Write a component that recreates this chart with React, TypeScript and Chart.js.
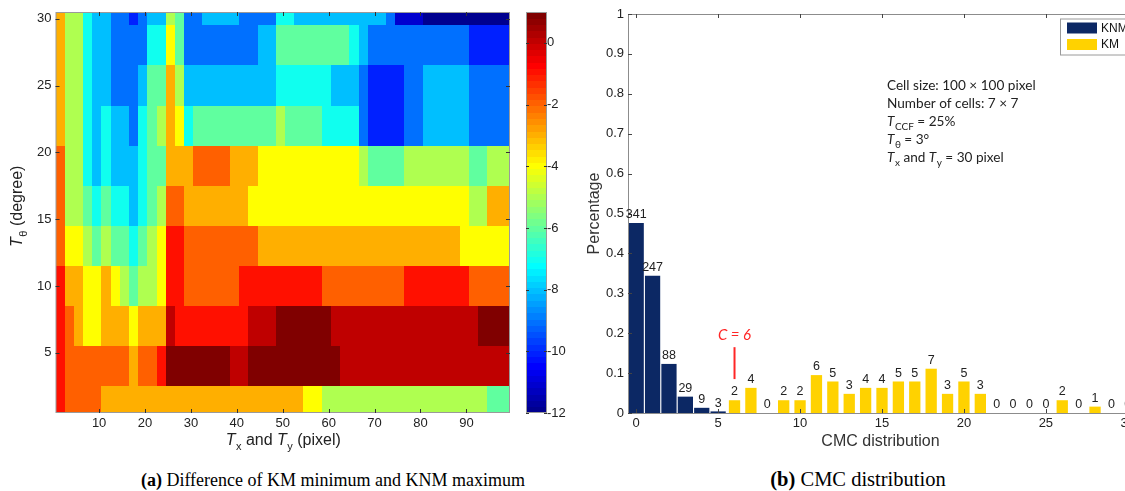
import React, { useEffect, useRef } from 'react';
import { Chart, registerables } from 'chart.js';

Chart.register(...registerables);

const SANS = '"Liberation Sans", Arial, sans-serif';
const CAL = 'Lato, "Open Sans", sans-serif';
const SERIF = '"Liberation Serif", "Times New Roman", serif';

// ---------------- Panel (a): heat map data ----------------
const txTicks = [10, 20, 30, 40, 50, 60, 70, 80, 90];
const txTickLabels = ['10', '20', '30', '40', '50', '60', '70', '80', '90'];
const thetaTicks = [5, 10, 15, 20, 25, 30];
const thetaTickLabels = ['5', '10', '15', '20', '25', '30'];
const colorbarTicks = [0, -2, -4, -6, -8, -10, -12];
const colorbarTickLabels = ['0', '-2', '-4', '-6', '-8', '-10', '-12'];
const txRange = [0.5, 99.5];
const thetaRange = [0.5, 30.5];
const colorRange = [-12, 1];

// row boundaries in T_theta (top to bottom) and column grid in T_x
const thetaRowEdges = [30.5, 29.5, 26.5, 23.5, 20.5, 17.5, 14.5, 11.5, 8.5, 5.5, 2.5, 0.5];
const txFirstEdge = 0.5;
const txCellSize = 2;

// each row: runs of [number of T_x cells, value]
const rowTheta30 = [[1, -3], [2, -5], [1, -7], [2, -8], [2, -9], [1, -10], [1, -9], [2, -8], [1, -5], [1, -6], [2, -9], [4, -8], [4, -9], [2, -7], [10, -8], [1, -9], [3, -11], [10, -12]];
const rowTheta28 = [[1, -3], [2, -5], [1, -7], [2, -8], [4, -9], [2, -7], [1, -4], [1, -6], [8, -9], [2, -8], [8, -6], [1, -7], [1, -8], [11, -9], [5, -10]];
const rowTheta25 = [[1, -3], [2, -5], [1, -7], [2, -8], [3, -9], [1, -8], [2, -6], [1, -3], [1, -5], [10, -8], [6, -7], [3, -8], [1, -9], [4, -10], [2, -9], [5, -8], [5, -9]];
const rowTheta22 = [[1, -3], [2, -5], [1, -7], [1, -8], [1, -7], [2, -8], [1, -9], [1, -7], [1, -6], [1, -5], [1, -3], [1, -4], [1, -7], [9, -6], [1, -5], [4, -6], [4, -7], [1, -9], [4, -10], [2, -9], [5, -8], [5, -9]];
const rowTheta19 = [[1, -2], [2, -5], [1, -7], [1, -8], [1, -7], [3, -8], [1, -7], [2, -6], [3, -3], [4, -2], [3, -3], [11, -4], [1, -5], [4, -6], [7, -5], [2, -6], [3, -5]];
const rowTheta16 = [[1, -2], [2, -5], [1, -6], [1, -7], [1, -6], [2, -7], [1, -8], [1, -7], [1, -6], [1, -5], [2, -2], [7, -3], [24, -4], [2, -5], [3, -3]];
const rowTheta13 = [[1, -2], [2, -4], [1, -5], [1, -6], [1, -5], [2, -6], [1, -7], [1, -6], [1, -5], [1, -4], [2, -1], [8, -2], [22, -3], [6, -4]];
const rowTheta10 = [[1, -1], [2, -3], [2, -4], [1, -3], [1, -4], [1, -5], [1, -6], [2, -5], [1, -4], [2, -1], [6, -2], [9, -1], [9, -2], [7, -1], [5, -2]];
const rowTheta7 = [[1, -1], [1, -2], [1, -3], [2, -4], [3, -3], [1, -4], [3, -3], [1, 0], [8, -1], [3, 0], [6, 1], [16, 0], [4, 1]];
const rowTheta4 = [[1, -1], [7, -2], [1, -3], [2, -2], [1, -1], [7, 1], [2, 0], [10, 1], [19, 0]];
const rowTheta1 = [[1, -1], [4, -2], [22, -3], [2, -4], [18, -5], [3, -6]];
const heatRows = [rowTheta30, rowTheta28, rowTheta25, rowTheta22, rowTheta19, rowTheta16, rowTheta13, rowTheta10, rowTheta7, rowTheta4, rowTheta1];

// ---------------- Panel (b): CMC distribution data ----------------
const cmcBins = ['0', '1', '2', '3', '4', '5', '6', '7', '8', '9', '10', '11', '12', '13', '14', '15', '16', '17', '18', '19', '20', '21', '22', '23', '24', '25', '26', '27', '28', '29', '30'];
const cmcTickLabels = ['0', '5', '10', '15', '20', '25', '30'];
const percentTicks = [0, 0.1, 0.2, 0.3, 0.4, 0.5, 0.6, 0.7, 0.8, 0.9, 1];
const percentTickLabels = ['0', '0.1', '0.2', '0.3', '0.4', '0.5', '0.6', '0.7', '0.8', '0.9', '1'];
const knmBins = ['0', '1', '2', '3', '4', '5'];
const knmPercent = [0.476, 0.344, 0.123, 0.041, 0.013, 0.004];
const knmCounts = [341, 247, 88, 29, 9, 3];
const kmBins = ['6', '7', '8', '9', '10', '11', '12', '13', '14', '15', '16', '17', '18', '19', '20', '21', '22', '23', '24', '25', '26', '27', '28', '29', '30'];
const kmPercent = [0.032, 0.063, 0, 0.032, 0.032, 0.095, 0.079, 0.048, 0.063, 0.063, 0.079, 0.079, 0.111, 0.048, 0.079, 0.048, 0, 0, 0, 0, 0.032, 0, 0.016, 0, 0];
const kmCounts = [2, 4, 0, 2, 2, 6, 5, 3, 4, 4, 5, 5, 7, 3, 5, 3, 0, 0, 0, 0, 2, 0, 1, 0, 0];
const thresholdBin = '6';
const thresholdLabel = 'C = 6';
const thresholdLine = [0.085, 0.165];
const thresholdTextAt = 0.183;
const seriesNames = ['KNM', 'KM'];

const NAVY = '#0c2864';
const GOLD = '#ffd200';

type Seg = { t: string; it?: boolean; sub?: boolean };

function drawRich(ctx: CanvasRenderingContext2D, segs: Seg[], x: number, y: number, size: number, family: string, align: 'center' | 'left', angle: number, color: string) {
  const subSize = Math.round(size * 0.7);
  const fontOf = (s: Seg) => `${s.it ? 'italic ' : ''}${s.sub ? subSize : size}px ${family}`;
  let total = 0;
  const widths = segs.map((s) => {
    ctx.font = fontOf(s);
    const w = ctx.measureText(s.t).width;
    total += w;
    return w;
  });
  ctx.save();
  ctx.translate(x, y);
  ctx.rotate(angle);
  ctx.fillStyle = color;
  ctx.textBaseline = 'alphabetic';
  ctx.textAlign = 'left';
  let cx = align === 'center' ? -total / 2 : 0;
  segs.forEach((s, i) => {
    ctx.font = fontOf(s);
    ctx.fillText(s.t, cx, s.sub ? size * 0.3 : 0);
    cx += widths[i] + (s.it ? 0.5 : 0);
  });
  ctx.restore();
}

function jetIndexColor(i: number) {
  const c = (t: number) => Math.max(0, Math.min(1, t));
  const r = c(Math.min((i - 24) / 16, (72 - i) / 16));
  const g = c(Math.min((i - 8) / 16, (56 - i) / 16));
  const b = c(Math.min((i + 8) / 16, (40 - i) / 16));
  return `rgb(${Math.round(r * 255)},${Math.round(g * 255)},${Math.round(b * 255)})`;
}

function jetValueColor(v: number) {
  let i = Math.floor(((v - colorRange[0]) / (colorRange[1] - colorRange[0])) * 64 + 1e-9) + 1;
  i = Math.max(1, Math.min(64, i));
  return jetIndexColor(i);
}

const heatmapPlugin = {
  id: 'heatmapCells',
  beforeDatasetsDraw(chart: any) {
    const { ctx, chartArea: a, scales } = chart;
    const x = scales.x;
    const y = scales.y;
    ctx.save();
    ctx.beginPath();
    ctx.rect(a.left, a.top, a.right - a.left, a.bottom - a.top);
    ctx.clip();
    heatRows.forEach((runs, r) => {
      const yTop = Math.round(y.getPixelForValue(thetaRowEdges[r]));
      const yBot = Math.round(y.getPixelForValue(thetaRowEdges[r + 1]));
      let col = 0;
      runs.forEach(([n, v]) => {
        const x0 = Math.round(x.getPixelForValue(txFirstEdge + col * txCellSize));
        const x1 = Math.round(x.getPixelForValue(txFirstEdge + (col + n) * txCellSize));
        ctx.fillStyle = jetValueColor(v);
        ctx.fillRect(x0, yTop, x1 - x0 + 0.5, yBot - yTop + 0.5);
        col += n;
      });
    });
    ctx.restore();
  },
  afterDraw(chart: any) {
    const { ctx, chartArea: a, scales } = chart;
    const x = scales.x;
    const y = scales.y;
    const cb = scales.cb;
    ctx.save();
    // frame
    ctx.strokeStyle = '#9a9a9a';
    ctx.lineWidth = 1;
    ctx.strokeRect(a.left + 0.5, a.top + 0.5, a.right - a.left - 1, a.bottom - a.top - 1);
    // inner ticks
    ctx.strokeStyle = '#333';
    ctx.beginPath();
    txTicks.forEach((v) => {
      const px = Math.round(x.getPixelForValue(v)) + 0.5;
      ctx.moveTo(px, a.top); ctx.lineTo(px, a.top + 4);
      ctx.moveTo(px, a.bottom); ctx.lineTo(px, a.bottom - 4);
    });
    thetaTicks.forEach((v) => {
      const py = Math.round(y.getPixelForValue(v)) + 0.5;
      ctx.moveTo(a.left, py); ctx.lineTo(a.left + 4, py);
      ctx.moveTo(a.right, py); ctx.lineTo(a.right - 4, py);
    });
    ctx.stroke();

    // colorbar
    const cx0 = a.right + 16;
    const cx1 = a.right + 37;
    for (let i = 1; i <= 64; i++) {
      const v0 = colorRange[0] + ((i - 1) / 64) * (colorRange[1] - colorRange[0]);
      const v1 = colorRange[0] + (i / 64) * (colorRange[1] - colorRange[0]);
      const p0 = cb.getPixelForValue(v0);
      const p1 = cb.getPixelForValue(v1);
      ctx.fillStyle = jetIndexColor(i);
      ctx.fillRect(cx0, Math.floor(p1), cx1 - cx0, Math.ceil(p0) - Math.floor(p1));
    }
    ctx.strokeStyle = '#9a9a9a';
    ctx.strokeRect(cx0 + 0.5, cb.top + 0.5, cx1 - cx0 - 1, cb.bottom - cb.top - 1);
    ctx.strokeStyle = '#333';
    ctx.beginPath();
    colorbarTicks.forEach((v) => {
      const py = Math.round(cb.getPixelForValue(v)) + 0.5;
      ctx.moveTo(cx0, py); ctx.lineTo(cx0 + 3, py);
      ctx.moveTo(cx1, py); ctx.lineTo(cx1 - 3, py);
    });
    ctx.stroke();
    ctx.restore();

    // axis titles
    drawRich(ctx, [{ t: 'T', it: true }, { t: 'θ', sub: true }, { t: ' (degree)' }], 22, (a.top + a.bottom) / 2 - 6, 16, SANS, 'center', -Math.PI / 2, '#222');
    drawRich(ctx, [{ t: 'T', it: true }, { t: 'x', sub: true }, { t: ' and ' }, { t: 'T', it: true }, { t: 'y', sub: true }, { t: ' (pixel)' }], (a.left + a.right) / 2, 445, 16, SANS, 'center', 0, '#222');
  },
};

const cmcPlugin = {
  id: 'cmcDecor',
  afterDatasetsDraw(chart: any) {
    const { ctx, chartArea: a, scales } = chart;
    const x = scales.x;
    const y = scales.y;
    ctx.save();
    // frame
    ctx.strokeStyle = '#8c8c8c';
    ctx.lineWidth = 1;
    ctx.beginPath();
    ctx.moveTo(a.left + 0.5, a.top + 0.5); ctx.lineTo(a.left + 0.5, a.bottom + 0.5);
    ctx.lineTo(a.right, a.bottom + 0.5);
    ctx.moveTo(a.left + 0.5, a.top + 0.5); ctx.lineTo(a.right, a.top + 0.5);
    ctx.stroke();
    ctx.strokeStyle = '#444';
    ctx.beginPath();
    percentTicks.forEach((v) => {
      const py = Math.round(y.getPixelForValue(v)) + 0.5;
      ctx.moveTo(a.left, py); ctx.lineTo(a.left + 4, py);
    });
    cmcTickLabels.forEach((lab) => {
      const px = Math.round(x.getPixelForValue(cmcBins.indexOf(lab))) + 0.5;
      ctx.moveTo(px, a.top); ctx.lineTo(px, a.top + 4);
      ctx.moveTo(px, a.bottom); ctx.lineTo(px, a.bottom - 4);
    });
    ctx.stroke();

    // count labels above bars
    ctx.font = `12.5px ${SANS}`;
    ctx.fillStyle = '#222';
    ctx.textAlign = 'center';
    ctx.textBaseline = 'bottom';
    const drawCounts = (di: number, bins: string[], counts: number[]) => {
      const meta = chart.getDatasetMeta(di);
      bins.forEach((b, i) => {
        const el = meta.data[cmcBins.indexOf(b)];
        if (!el) return;
        ctx.fillText(String(counts[i]), el.x, el.y - 2);
      });
    };
    drawCounts(0, knmBins, knmCounts);
    drawCounts(1, kmBins, kmCounts);

    // threshold annotation
    const tx = x.getPixelForValue(cmcBins.indexOf(thresholdBin));
    ctx.strokeStyle = '#ff2626';
    ctx.lineWidth = 2;
    ctx.beginPath();
    ctx.moveTo(tx, y.getPixelForValue(thresholdLine[1]));
    ctx.lineTo(tx, y.getPixelForValue(thresholdLine[0]));
    ctx.stroke();
    ctx.font = `italic 15px ${CAL}`;
    ctx.fillStyle = '#ff2626';
    ctx.textBaseline = 'alphabetic';
    ctx.fillText(thresholdLabel, tx, y.getPixelForValue(thresholdTextAt));

    // info block
    const lx = a.left + 259;
    const ly = a.top + 75.5;
    const lh = 18.2;
    const info: Seg[][] = [
      [{ t: 'Cell size: 100 × 100 pixel' }],
      [{ t: 'Number of cells: 7 × 7' }],
      [{ t: 'T', it: true }, { t: 'CCF', sub: true }, { t: ' = 25%' }],
      [{ t: 'T', it: true }, { t: 'θ', sub: true }, { t: ' = 3°' }],
      [{ t: 'T', it: true }, { t: 'x', sub: true }, { t: ' and ' }, { t: 'T', it: true }, { t: 'y', sub: true }, { t: ' = 30 pixel' }],
    ];
    info.forEach((segs, i) => drawRich(ctx, segs, lx, ly + i * lh, 13.6, CAL, 'left', 0, '#222'));

    // legend
    const bx = a.right - 76;
    const by = 18.5;
    ctx.fillStyle = '#fff';
    ctx.fillRect(bx, by, 74, 36);
    ctx.strokeStyle = '#9a9a9a';
    ctx.lineWidth = 1;
    ctx.strokeRect(bx + 0.5, by + 0.5, 74, 36);
    const colors = [NAVY, GOLD];
    seriesNames.forEach((name, i) => {
      ctx.fillStyle = colors[i];
      ctx.fillRect(bx + 7, by + 4 + i * 16.5, 30, 11);
      ctx.fillStyle = '#111';
      ctx.font = `12px ${SANS}`;
      ctx.textAlign = 'left';
      ctx.textBaseline = 'middle';
      ctx.fillText(name, bx + 41, by + 10 + i * 16.5);
    });

    // axis titles
    drawRich(ctx, [{ t: 'Percentage' }], 19, (a.top + a.bottom) / 2, 16, SANS, 'center', -Math.PI / 2, '#333');
    drawRich(ctx, [{ t: 'CMC distribution' }], 300.5, 445.5, 16, SANS, 'center', 0, '#333');
    ctx.restore();
  },
};

export default function App() {
  const leftRef = useRef<HTMLCanvasElement | null>(null);
  const rightRef = useRef<HTMLCanvasElement | null>(null);

  useEffect(() => {
    const tickFont = { family: SANS, size: 13 };
    const left = new Chart(leftRef.current as HTMLCanvasElement, {
      type: 'scatter',
      data: { datasets: [{ data: [] }] },
      options: {
        animation: false,
        responsive: false,
        maintainAspectRatio: false,
        events: [],
        layout: { padding: { top: 12, right: 0, bottom: 0, left: 0 } },
        plugins: { legend: { display: false }, tooltip: { enabled: false } },
        scales: {
          x: {
            type: 'linear', min: txRange[0], max: txRange[1],
            afterBuildTicks: (s: any) => { s.ticks = txTicks.map((v) => ({ value: v })); },
            afterFit: (s: any) => { s.height = 47; s.paddingLeft = 0; s.paddingRight = 0; },
            grid: { display: false, drawTicks: false }, border: { display: false },
            ticks: { padding: 3, color: '#222', font: tickFont, callback: (_v: any, i: number) => txTickLabels[i] },
          },
          y: {
            type: 'linear', min: thetaRange[0], max: thetaRange[1],
            afterBuildTicks: (s: any) => { s.ticks = thetaTicks.map((v) => ({ value: v })); },
            afterFit: (s: any) => { s.width = 55.5; s.paddingTop = 0; s.paddingBottom = 0; },
            grid: { display: false, drawTicks: false }, border: { display: false },
            ticks: { padding: 4, color: '#222', font: tickFont, callback: (_v: any, i: number) => thetaTickLabels[i] },
          },
          cb: {
            type: 'linear', axis: 'y', position: 'right', min: colorRange[0], max: colorRange[1],
            afterBuildTicks: (s: any) => { s.ticks = colorbarTicks.map((v) => ({ value: v })); },
            afterFit: (s: any) => { s.width = 60; s.paddingTop = 0; s.paddingBottom = 0; },
            grid: { display: false, drawTicks: false }, border: { display: false },
            ticks: { padding: 37, color: '#222', font: tickFont, callback: (_v: any, i: number) => colorbarTickLabels[i] },
          },
        },
      } as any,
      plugins: [heatmapPlugin],
    });

    const knmData = cmcBins.map((b) => { const i = knmBins.indexOf(b); return i >= 0 ? knmPercent[i] : null; });
    const kmData = cmcBins.map((b) => { const i = kmBins.indexOf(b); return i >= 0 ? kmPercent[i] : null; });

    const right = new Chart(rightRef.current as HTMLCanvasElement, {
      type: 'bar',
      data: {
        labels: cmcBins,
        datasets: [
          { label: seriesNames[0], data: knmData, backgroundColor: NAVY, grouped: false, barPercentage: 0.93, categoryPercentage: 1 },
          { label: seriesNames[1], data: kmData, backgroundColor: GOLD, grouped: false, barPercentage: 0.69, categoryPercentage: 1 },
        ],
      } as any,
      options: {
        animation: false,
        responsive: false,
        maintainAspectRatio: false,
        events: [],
        layout: { padding: { top: 14, right: 10, bottom: 0, left: 0 } },
        plugins: { legend: { display: false }, tooltip: { enabled: false } },
        scales: {
          x: {
            offset: true,
            afterFit: (s: any) => { s.height = 47; s.paddingLeft = 0; s.paddingRight = 0; },
            grid: { display: false, drawTicks: false }, border: { display: false },
            ticks: {
              autoSkip: false, maxRotation: 0, padding: 3, color: '#222', font: tickFont,
              callback: (_v: any, i: number) => (cmcTickLabels.includes(cmcBins[i]) ? cmcBins[i] : ''),
            },
          },
          y: {
            min: 0, max: 1,
            afterBuildTicks: (s: any) => { s.ticks = percentTicks.map((v) => ({ value: v })); },
            afterFit: (s: any) => { s.width = 48; s.paddingTop = 0; s.paddingBottom = 0; },
            grid: { display: false, drawTicks: false }, border: { display: false },
            ticks: { padding: 4, color: '#222', font: tickFont, callback: (_v: any, i: number) => percentTickLabels[i] },
          },
        },
      } as any,
      plugins: [cmcPlugin],
    });

    return () => { left.destroy(); right.destroy(); };
  }, []);

  return (
    <div style={{ position: 'absolute', left: 0, top: 0, width: 1125, height: 491, overflow: 'hidden', background: '#fff' }}>
      <canvas ref={leftRef} width={570} height={460} style={{ position: 'absolute', left: 0, top: 0, width: 570, height: 460 }} />
      <canvas ref={rightRef} width={566} height={460} style={{ position: 'absolute', left: 580, top: 0, width: 566, height: 460 }} />
      <div style={{ position: 'absolute', left: 133, width: 400, top: 468, textAlign: 'center', fontFamily: SERIF, fontSize: 18, lineHeight: '24px', color: '#000', whiteSpace: 'nowrap' }}>
        <b>(a)</b> Difference of KM minimum and KNM maximum
      </div>
      <div style={{ position: 'absolute', left: 708, width: 300, top: 466, textAlign: 'center', fontFamily: SERIF, fontSize: 20.5, lineHeight: '26px', color: '#000', whiteSpace: 'nowrap' }}>
        <b>(b)</b> CMC distribution
      </div>
    </div>
  );
}
